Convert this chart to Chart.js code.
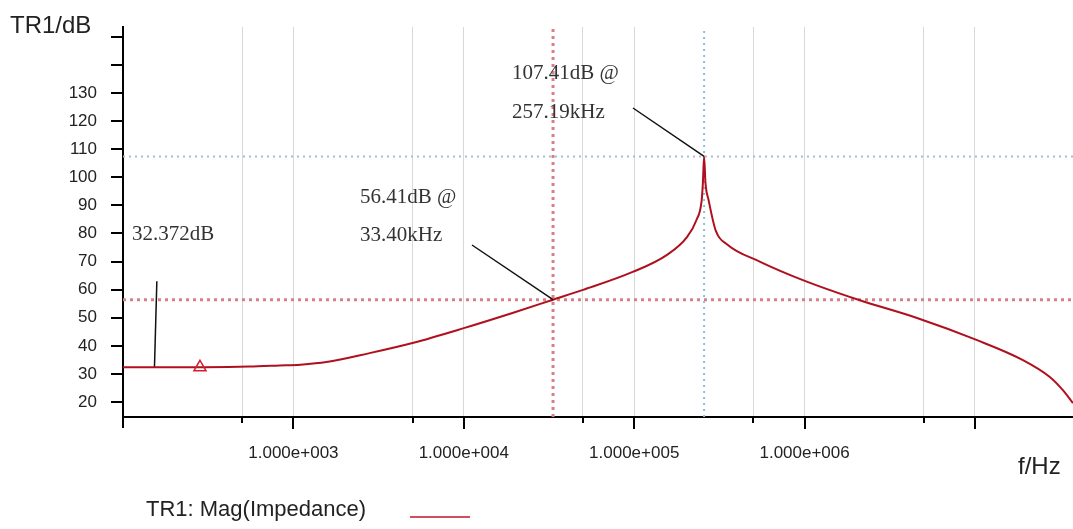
<!DOCTYPE html>
<html>
<head>
<meta charset="utf-8">
<script src="https://cdn.jsdelivr.net/npm/chart.js@4.4.1/dist/chart.umd.min.js"></script>
<style>
  html, body { margin: 0; padding: 0; background: #fff; overflow: hidden; }
  #wrap { width: 1073px; height: 529px; position: relative; }
  #bode { display: block; }
</style>
</head>
<body>
<div id="wrap"><canvas id="bode"></canvas></div>
<script>
// impedance magnitude curve (Hz, dB)
const freqs = [100, 300, 550, 828, 1100, 1560, 2800, 5000, 10000, 19300, 33400, 50100, 98000,
               155000, 204000, 232000, 249000, 253000, 257190, 262000, 273000, 301000, 353000,
               545000, 977000, 2090000, 4570000, 10200000, 19000000, 27500000, 32700000, 37600000];
const dbs   = [32.37, 32.4, 32.6, 33.0, 33.3, 34.2, 37.4, 41.0, 46.3, 51.7, 56.41, 59.9, 66.3,
               72.3, 78.7, 84.8, 91.9, 98.0, 107.41, 98.0, 92.0, 81.0, 76.0,
               70.0, 63.4, 56.3, 49.9, 42.1, 35.0, 28.9, 24.3, 19.6];

// cursors: red = 33.40 kHz, blue = 257.19 kHz
const markerFreq = [33400, 257190];
const markerDb   = [56.41, 107.41];
const markerText = [['56.41dB @', '33.40kHz'], ['107.41dB @', '257.19kHz']];

// reference marker at low frequency
const refFreq  = [153, 158];
const refDb    = [32.37, 63];
const refText  = '32.372dB';
const triFreq  = [283];
const triDb    = [32.37];

const xMajor   = [1e3, 1e4, 1e5, 1e6, 1e7];
const xMinor   = [5e2, 5e3, 5e4, 5e5, 5e6];
const xLabeled = [1e3, 1e4, 1e5, 1e6];
const yTicks   = [20, 30, 40, 50, 60, 70, 80, 90, 100, 110, 120, 130, 140, 150];
const yLabeled = [20, 30, 40, 50, 60, 70, 80, 90, 100, 110, 120, 130];

const X_MIN = 100, X_MAX = 37600000;
const Y_MIN = 14.66, Y_MAX = 153.5;

const xTicks = [...xMajor, ...xMinor].sort((a, b) => a - b);

function sci(v) {
    const e = Math.round(Math.log10(v));
    return (v / Math.pow(10, e)).toFixed(3) + 'e+' + String(e).padStart(3, '0');
}

const overlay = {
    id: 'overlay',
    afterDraw(chart) {
        const { ctx, chartArea: a, scales: { x, y } } = chart;
        const line = (x1, y1, x2, y2) => { ctx.beginPath(); ctx.moveTo(x1, y1); ctx.lineTo(x2, y2); ctx.stroke(); };
        ctx.save();

        // tick marks
        ctx.strokeStyle = '#000';
        ctx.lineWidth = 2;
        yTicks.forEach(v => { const py = Math.round(y.getPixelForValue(v)); line(a.left - 12, py, a.left, py); });
        xMajor.forEach(v => { const px = Math.round(x.getPixelForValue(v)); line(px, a.bottom, px, a.bottom + 12); });
        xMinor.forEach(v => { const px = Math.round(x.getPixelForValue(v)); line(px, a.bottom, px, a.bottom + 6); });
        line(a.left, a.bottom, a.left, a.bottom + 11);

        // cursor callouts
        ctx.lineWidth = 1.5;
        ctx.strokeStyle = '#111';
        line(472, 245, x.getPixelForValue(markerFreq[0]), y.getPixelForValue(markerDb[0]));
        line(633, 108, x.getPixelForValue(markerFreq[1]), y.getPixelForValue(markerDb[1]));

        ctx.fillStyle = '#333';
        ctx.font = '21px "Liberation Serif", serif';
        ctx.textBaseline = 'middle';
        ctx.textAlign = 'left';
        ctx.fillText(markerText[0][0], 360, 197);
        ctx.fillText(markerText[0][1], 360, 235);
        ctx.fillText(markerText[1][0], 512, 73);
        ctx.fillText(markerText[1][1], 512, 112);
        ctx.fillText(refText, 132, 234);

        // axis names
        ctx.fillStyle = '#222';
        ctx.font = '24px "Liberation Sans", Arial, sans-serif';
        ctx.fillText('TR1/dB', 10, 26);
        ctx.fillText('f/Hz', 1018, 467);

        // legend
        ctx.font = '22px "Liberation Sans", Arial, sans-serif';
        ctx.fillText('TR1: Mag(Impedance)', 146, 510);
        ctx.strokeStyle = '#c0142a';
        ctx.lineWidth = 1.5;
        line(410, 517, 470, 517);

        ctx.restore();
    }
};

new Chart(document.getElementById('bode'), {
    type: 'line',
    data: {
        datasets: [
            {
                label: 'TR1: Mag(Impedance)',
                data: freqs.map((f, i) => ({ x: f, y: dbs[i] })),
                borderColor: '#b0101e',
                borderWidth: 2,
                pointRadius: 0,
                cubicInterpolationMode: 'monotone',
                order: 1
            },
            {
                data: [{ x: refFreq[0], y: refDb[0] }, { x: refFreq[1], y: refDb[1] }],
                borderColor: '#111',
                borderWidth: 1.5,
                pointRadius: 0,
                order: 2
            },
            {
                type: 'scatter',
                data: triFreq.map((f, i) => ({ x: f, y: triDb[i] })),
                pointStyle: 'triangle',
                pointRadius: 7,
                borderColor: '#d02030',
                borderWidth: 1.5,
                backgroundColor: 'rgba(255,255,255,0)',
                order: 0
            },
            {
                data: [{ x: markerFreq[0], y: Y_MIN }, { x: markerFreq[0], y: Y_MAX }],
                borderColor: '#d88088',
                borderWidth: 3,
                borderDash: [3, 4],
                pointRadius: 0,
                order: 3
            },
            {
                data: [{ x: X_MIN, y: markerDb[0] }, { x: X_MAX, y: markerDb[0] }],
                borderColor: '#d88088',
                borderWidth: 3,
                borderDash: [3, 4],
                pointRadius: 0,
                order: 3
            },
            {
                data: [{ x: markerFreq[1], y: Y_MIN }, { x: markerFreq[1], y: Y_MAX }],
                borderColor: '#8cc0dc',
                borderWidth: 2,
                borderDash: [2, 4],
                pointRadius: 0,
                order: 3
            },
            {
                data: [{ x: X_MIN, y: markerDb[1] }, { x: X_MAX, y: markerDb[1] }],
                borderColor: '#a8bccc',
                borderWidth: 2,
                borderDash: [2, 4],
                pointRadius: 0,
                order: 3
            }
        ]
    },
    options: {
        responsive: true,
        maintainAspectRatio: false,
        animation: false,
        layout: { autoPadding: false, padding: { top: 27, left: 0, right: 0, bottom: 0 } },
        plugins: { legend: { display: false }, tooltip: { enabled: false } },
        scales: {
            x: {
                type: 'logarithmic',
                min: X_MIN, max: X_MAX,
                bounds: 'data',
                afterBuildTicks: s => { s.ticks = xTicks.map(v => ({ value: v })); },
                afterFit: s => { s.height = 112; s.paddingLeft = 0; s.paddingRight = 0; },
                grid: { color: '#d8d8d8', lineWidth: 1, drawTicks: false },
                border: { color: '#000', width: 2 },
                ticks: {
                    autoSkip: false, maxRotation: 0, padding: 26,
                    color: '#222',
                    font: { family: '"Liberation Sans", Arial, sans-serif', size: 17 },
                    callback: v => xLabeled.includes(v) ? sci(v) : ''
                }
            },
            y: {
                type: 'linear',
                min: Y_MIN, max: Y_MAX,
                bounds: 'data',
                afterBuildTicks: s => { s.ticks = yTicks.map(v => ({ value: v })); },
                afterFit: s => { s.width = 123; s.paddingTop = 0; s.paddingBottom = 0; },
                grid: { drawOnChartArea: false, drawTicks: false },
                border: { color: '#000', width: 2 },
                ticks: {
                    autoSkip: false, padding: 26,
                    color: '#222',
                    font: { family: '"Liberation Sans", Arial, sans-serif', size: 17 },
                    callback: v => yLabeled.includes(v) ? String(v) : ''
                }
            }
        }
    },
    plugins: [overlay]
});
</script>
</body>
</html>
